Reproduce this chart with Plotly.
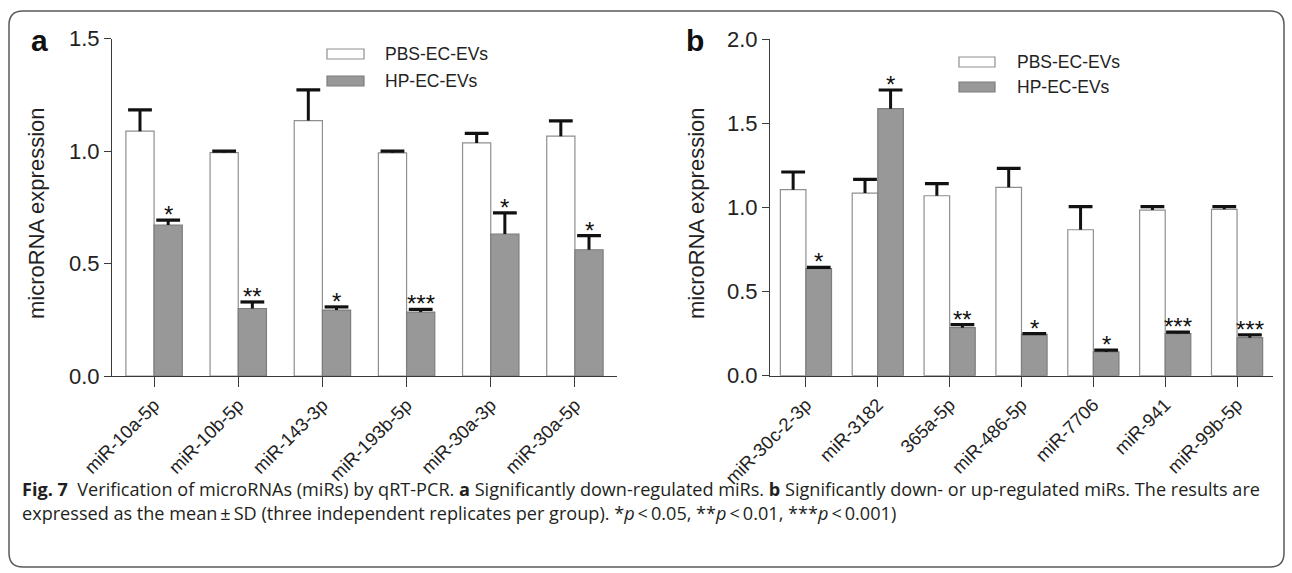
import plotly.graph_objects as go

W, H = 1292, 573

# ---------------- data ----------------
cats_a = ["miR-10a-5p", "miR-10b-5p", "miR-143-3p", "miR-193b-5p", "miR-30a-3p", "miR-30a-5p"]
pbs_a = [1.088, 0.993, 1.135, 0.992, 1.036, 1.066]
pbs_a_sd = [0.095, 0.006, 0.137, 0.007, 0.042, 0.068]
hp_a = [0.671, 0.300, 0.293, 0.284, 0.631, 0.561]
hp_a_sd = [0.022, 0.029, 0.014, 0.012, 0.094, 0.063]
sig_a = ["*", "**", "*", "***", "*", "*"]

cats_b = ["miR-30c-2-3p", "miR-3182", "365a-5p", "miR-486-5p", "miR-7706", "miR-941", "miR-99b-5p"]
pbs_b = [1.105, 1.085, 1.069, 1.119, 0.867, 0.984, 0.988]
pbs_b_sd = [0.105, 0.081, 0.072, 0.113, 0.137, 0.020, 0.016]
hp_b = [0.636, 1.586, 0.285, 0.246, 0.141, 0.250, 0.226]
hp_b_sd = [0.008, 0.111, 0.018, 0.004, 0.011, 0.009, 0.016]
sig_b = ["*", "*", "**", "*", "*", "***", "***"]

series_names = ["PBS-EC-EVs", "HP-EC-EVs"]
yticks_a = [0.0, 0.5, 1.0, 1.5]
yticks_b = [0.0, 0.5, 1.0, 1.5, 2.0]
y_title = "microRNA expression"

caption1 = ("<b>Fig. 7</b>  Verification of microRNAs (miRs) by qRT-PCR. <b>a</b> Significantly "
            "down-regulated miRs. <b>b</b> Significantly down- or up-regulated miRs. The results are")
caption2 = ("expressed as the mean\u2009\u00b1\u2009SD (three independent replicates per group). "
            "*<i>p</i>\u2009<\u20090.05, **<i>p</i>\u2009<\u20090.01, ***<i>p</i>\u2009<\u20090.001)")

# ---------------- styles ----------------
FONT = "Liberation Sans, Arial, sans-serif"
WHITE_FILL, WHITE_LINE = "#ffffff", "#8f8f8f"
GREY_FILL, GREY_LINE = "#989898", "#7d7d7d"
AXIS_COL = "#3a3a3a"
ERR_COL = "#111111"


def px(x):
    return x / W


def py(y):
    return 1 - y / H


fig = go.Figure()


def add_panel(cats, pbs, pbs_sd, hp, hp_sd, sig, xa, ya, bw):
    xs = list(range(len(cats)))
    for vals, sds, fill, lc, off, name in [(pbs, pbs_sd, WHITE_FILL, WHITE_LINE, -bw, series_names[0]),
                                           (hp, hp_sd, GREY_FILL, GREY_LINE, 0, series_names[1])]:
        fig.add_trace(go.Bar(
            x=xs, y=vals, width=bw, offset=off, xaxis=xa, yaxis=ya, name=name,
            marker=dict(color=fill, line=dict(color=lc, width=1.2)),
            error_y=dict(type="data", array=sds, arrayminus=[0] * len(vals), symmetric=False,
                         color=ERR_COL, thickness=3, width=0),
            showlegend=False))
        # error-bar caps (upper end only, as in the original)
        fig.add_trace(go.Scatter(
            x=[i + off + bw / 2 for i in xs], y=[v + s for v, s in zip(vals, sds)],
            xaxis=xa, yaxis=ya, mode="markers", hoverinfo="skip", showlegend=False,
            marker=dict(symbol="line-ew", size=17, line=dict(color=ERR_COL, width=3.2))))
    for i, s in enumerate(sig):
        fig.add_annotation(x=i + bw / 2, y=hp[i] + hp_sd[i], xref=xa, yref=ya, text=s,
                           showarrow=False, yanchor="bottom", yshift=-10,
                           font=dict(family=FONT, size=24, color="#111"))


add_panel(cats_a, pbs_a, pbs_a_sd, hp_a, hp_a_sd, sig_a, "x", "y", 0.335)
add_panel(cats_b, pbs_b, pbs_b_sd, hp_b, hp_b_sd, sig_b, "x2", "y2", 0.356)

common_x = dict(showline=True, linecolor=AXIS_COL, linewidth=1.2, ticks="outside", ticklen=10,
                tickcolor=AXIS_COL, tickwidth=1.2, tickangle=-45, showgrid=False, zeroline=False,
                tickfont=dict(family=FONT, size=18.5, color="#222"), automargin=False)
common_y = dict(showline=True, linecolor=AXIS_COL, linewidth=1.2, ticks="outside", ticklen=7,
                tickcolor=AXIS_COL, tickwidth=1.2, showgrid=False, zeroline=False,
                tickfont=dict(family=FONT, size=22, color="#222"), tickformat=".1f",
                automargin=False)

fig.update_layout(
    width=W, height=H, margin=dict(l=0, r=0, t=0, b=0),
    paper_bgcolor="white", plot_bgcolor="white", barmode="overlay",
    xaxis=dict(common_x, domain=[px(112), px(617)], range=[-0.5, len(cats_a) - 0.5],
               tickvals=list(range(len(cats_a))), ticktext=cats_a, anchor="y"),
    yaxis=dict(common_y, domain=[py(376), py(38.5)], range=[0, 1.5], tickvals=yticks_a, anchor="x"),
    xaxis2=dict(common_x, domain=[px(770), px(1273)], range=[-0.5, len(cats_b) - 0.5],
                tickvals=list(range(len(cats_b))), ticktext=cats_b, anchor="y2"),
    yaxis2=dict(common_y, domain=[py(375.7), py(39)], range=[0, 2.0], tickvals=yticks_b, anchor="x2"),
)

# y-axis titles
for tx in (36, 696):
    fig.add_annotation(x=px(tx), y=py(213), xref="paper", yref="paper", text=y_title,
                       textangle=-90, showarrow=False, xanchor="center", yanchor="middle",
                       font=dict(family=FONT, size=22, color="#222"))

shapes = []
# outer rounded frame
x0, y0, x1, y1, r = 9, 11, 1284, 567, 14
path = (f"M {px(x0 + r)},{py(y0)} L {px(x1 - r)},{py(y0)} "
        f"Q {px(x1)},{py(y0)} {px(x1)},{py(y0 + r)} L {px(x1)},{py(y1 - r)} "
        f"Q {px(x1)},{py(y1)} {px(x1 - r)},{py(y1)} L {px(x0 + r)},{py(y1)} "
        f"Q {px(x0)},{py(y1)} {px(x0)},{py(y1 - r)} L {px(x0)},{py(y0 + r)} "
        f"Q {px(x0)},{py(y0)} {px(x0 + r)},{py(y0)} Z")
shapes.append(dict(type="path", xref="paper", yref="paper", path=path,
                   line=dict(color="#5a5a5a", width=1.5), fillcolor="rgba(0,0,0,0)", layer="below"))

# custom legends
legend_pos = [(327, 364, 54, 81, 383), (959, 995, 62, 87, 1015)]
for (lx0, lx1, ly_w, ly_g, tx) in legend_pos:
    for cy, fill, lc, name in [(ly_w, WHITE_FILL, WHITE_LINE, series_names[0]),
                               (ly_g, GREY_FILL, GREY_LINE, series_names[1])]:
        shapes.append(dict(type="rect", xref="paper", yref="paper",
                           x0=px(lx0), x1=px(lx1), y0=py(cy + 5), y1=py(cy - 5),
                           fillcolor=fill, line=dict(color=lc, width=1.2)))
        fig.add_annotation(x=px(tx), y=py(cy), xref="paper", yref="paper", text=name,
                           xanchor="left", yanchor="middle", showarrow=False,
                           font=dict(family=FONT, size=17.5, color="#222"))
fig.update_layout(shapes=shapes)

# panel letters
for letter, lx in [("a", 39), ("b", 695)]:
    fig.add_annotation(x=px(lx), y=py(40), xref="paper", yref="paper", text=f"<b>{letter}</b>",
                       xanchor="center", yanchor="middle", showarrow=False,
                       font=dict(family=FONT, size=30, color="#111"))

# caption
CAP_FONT = "Open Sans, Noto Sans, sans-serif"
for txt, cy in [(caption1, 489), (caption2, 513)]:
    fig.add_annotation(x=px(20), y=py(cy), xref="paper", yref="paper", text=txt,
                       xanchor="left", yanchor="middle", showarrow=False, align="left",
                       font=dict(family=CAP_FONT, size=18.1, color="#231f20"))

fig.write_html("out.html", config={"displayModeBar": False},
               post_script="document.body.style.margin='0';document.body.style.overflow='hidden';")
